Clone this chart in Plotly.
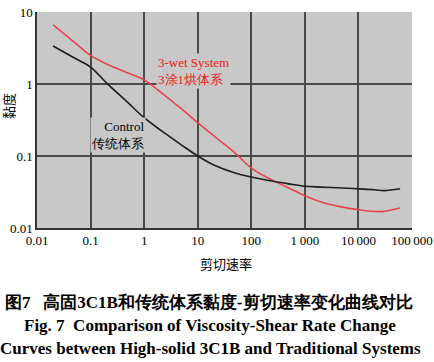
import plotly.graph_objects as go

# Shear rate (x) and viscosity (y)
control_x = [0.02, 0.05, 0.1, 0.2, 0.5, 1, 2, 5, 10, 20, 50, 100, 200, 500, 1000, 2000, 5000, 10000, 20000, 30000, 60000]
control_y = [3.37, 2.3, 1.72, 1.03, 0.55, 0.34, 0.23, 0.142, 0.1, 0.075, 0.058, 0.051, 0.046, 0.041, 0.038, 0.037, 0.036, 0.035, 0.034, 0.033, 0.035]

wet_x = [0.02, 0.05, 0.1, 0.2, 0.5, 1, 2, 5, 10, 20, 50, 100, 200, 500, 1000, 2000, 5000, 10000, 20000, 30000, 60000]
wet_y = [6.6, 3.8, 2.5, 1.9, 1.42, 1.14, 0.78, 0.45, 0.29, 0.19, 0.11, 0.068, 0.05, 0.036, 0.028, 0.023, 0.0195, 0.018, 0.017, 0.017, 0.019]

x_tickvals = [0.01, 0.1, 1, 10, 100, 1000, 10000, 100000]
x_ticktext = ["0.01", "0.1", "1", "10", "100", "1\u2009000", "10\u2009000", "100\u2009000"]
y_tickvals = [0.01, 0.1, 1, 10]
y_ticktext = ["0.01", "0.1", "1", "10"]
x_gridvals = [0.1, 1, 10, 100, 1000, 10000]
y_gridvals = [0.1, 1]

SERIF = "Liberation Serif"
CJK = "Noto Sans CJK SC"

fig = go.Figure()
fig.add_trace(go.Scatter(x=wet_x, y=wet_y, mode="lines", line=dict(color="#e8434f", width=1.6, shape="spline"),
                         showlegend=False, hoverinfo="skip"))
fig.add_trace(go.Scatter(x=control_x, y=control_y, mode="lines", line=dict(color="#1e1e1e", width=1.6, shape="spline"),
                         showlegend=False, hoverinfo="skip"))

grid_color = "#4a4a4a"
fig.update_layout(
    width=434, height=362,
    margin=dict(l=37, r=22, t=12, b=134, autoexpand=False),
    paper_bgcolor="white", plot_bgcolor="#c8c8c8",
    xaxis=dict(type="log", range=[-2, 5], tickmode="array", tickvals=x_tickvals, ticktext=x_ticktext,
               showgrid=False, zeroline=False, automargin=False,
               showline=True, linecolor="#333333", linewidth=1.5, ticks="",
               tickfont=dict(family=SERIF, size=13, color="black"),
               minor=dict(tickmode="array", tickvals=x_gridvals, showgrid=True, gridcolor=grid_color,
                          gridwidth=1.5, ticks="")),
    yaxis=dict(type="log", range=[-2, 1], tickmode="array", tickvals=y_tickvals, ticktext=y_ticktext,
               showgrid=False, zeroline=False, automargin=False,
               showline=True, linecolor="#333333", linewidth=1.5, ticks="",
               tickfont=dict(family=SERIF, size=13, color="black"),
               minor=dict(tickmode="array", tickvals=y_gridvals, showgrid=True, gridcolor=grid_color,
                          gridwidth=1.5, ticks="")),
)

def px_x(p):
    return (p - 37) / 375.0

def px_y(p):
    return (228 - p) / 216.0

anns = [
    dict(text="3-wet System<br>3涂1烘体系", x=px_x(156), y=px_y(71.5), xanchor="left", yanchor="middle",
         align="left", font=dict(family=SERIF, size=13, color="#f01818"), bgcolor="#c8c8c8", borderpad=1),
    dict(text="Control<br>传统体系", x=px_x(146), y=px_y(135), xanchor="right", yanchor="middle",
         align="right", font=dict(family=SERIF, size=13, color="black"), bgcolor="#c8c8c8", borderpad=1),
    dict(text="黏度", x=px_x(8), y=px_y(106), textangle=-90, xanchor="center", yanchor="middle",
         font=dict(family=CJK, size=13, color="black")),
    dict(text="剪切速率", x=px_x(226), y=px_y(263), xanchor="center", yanchor="middle",
         font=dict(family=CJK, size=13, color="black")),
    dict(text="<b>图7\u2002 高固3C1B和传统体系黏度-剪切速率变化曲线对比</b>", x=px_x(209), y=px_y(302),
         xanchor="center", yanchor="middle", font=dict(family=SERIF, size=17, color="black")),
    dict(text="<b>Fig. 7  Comparison of Viscosity-Shear Rate Change</b>", x=px_x(210), y=px_y(325),
         xanchor="center", yanchor="middle", font=dict(family=SERIF, size=17, color="black")),
    dict(text="<b>Curves between High-solid 3C1B and Traditional Systems</b>", x=px_x(210), y=px_y(348),
         xanchor="center", yanchor="middle", font=dict(family=SERIF, size=17, color="black")),
]
for a in anns:
    a.update(xref="paper", yref="paper", showarrow=False)
fig.update_layout(annotations=anns)

fig.write_html("out.html", config={"displayModeBar": False},
               post_script="document.body.style.margin='0';document.body.style.padding='0';")
